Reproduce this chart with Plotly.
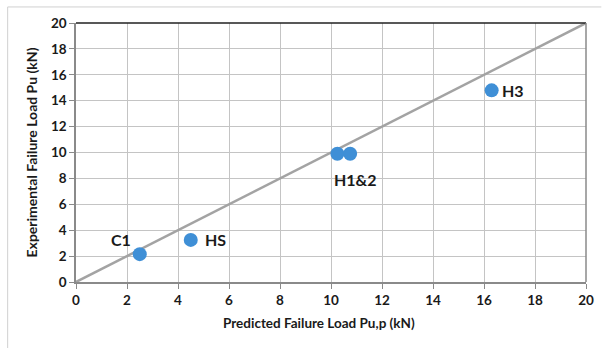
import plotly.graph_objects as go

pred = [2.5, 4.5, 10.25, 10.75, 16.3]
exper = [2.15, 3.25, 9.9, 9.9, 14.8]
line_x = [0, 20]
line_y = [0, 20]
label_text = ["C1", "HS", "H1&2", "H3"]
label_x = [2.5, 4.5, 10.5, 16.3]
label_y = [2.15, 3.25, 9.9, 14.8]
label_dx = [-19, 12, 11, 8]
label_dy = [15, 0, -26, 0]
label_anchor = ["center", "left", "center", "left"]
ticks = list(range(0, 21, 2))

fig = go.Figure()
fig.add_trace(go.Scatter(x=line_x, y=line_y, mode="lines",
                         line=dict(color="#a3a3a3", width=2.5), hoverinfo="skip"))
fig.add_trace(go.Scatter(x=pred, y=exper, mode="markers",
                         marker=dict(color="#3f8fd6", size=14)))

for t, x, y, dx, dy, a in zip(label_text, label_x, label_y, label_dx, label_dy, label_anchor):
    fig.add_annotation(x=x, y=y, text=t, showarrow=False, xanchor=a, yanchor="middle",
                       xshift=dx, yshift=dy,
                       font=dict(family="Lato", size=16, color="#1a1a1a", weight="bold"))

font_tick = dict(family="Lato", size=13.5, color="#1a1a1a", weight="bold")
title_font = dict(family="Lato", size=13.5, color="#1a1a1a", weight="bold")
fig.update_xaxes(range=[0, 20], tickvals=ticks, showgrid=True, gridcolor="#c4c4c4", gridwidth=1,
                 showline=True, linecolor="#8a8a8a", linewidth=1.5, ticks="outside", ticklen=5,
                 tickcolor="#8a8a8a", tickfont=font_tick, zeroline=False, mirror=False)
fig.update_yaxes(range=[0, 20], tickvals=ticks, showgrid=True, gridcolor="#c4c4c4", gridwidth=1,
                 showline=True, linecolor="#8a8a8a", linewidth=1.5, ticks="outside", ticklen=5,
                 tickcolor="#8a8a8a", tickfont=font_tick, zeroline=False,
                 title=dict(text="Experimental Failure Load Pu (kN)", standoff=10,
                            font=dict(family="Lato", size=14, color="#1a1a1a", weight="bold")))

fig.add_annotation(text="Predicted Failure Load Pu,p (kN)", xref="paper", yref="paper",
                   x=(321 - 76) / 514, y=(282 - 323) / 259, xanchor="center", yanchor="middle",
                   showarrow=False, font=title_font)

# plot-area borders: top dark, right gray
fig.add_shape(type="line", xref="paper", yref="paper", x0=0, x1=1, y0=1, y1=1,
              line=dict(color="#202020", width=1.5))
fig.add_shape(type="line", xref="paper", yref="paper", x0=1, x1=1, y0=0, y1=1,
              line=dict(color="#8a8a8a", width=1.5))
# outer light frame
fig.add_shape(type="line", xref="paper", yref="paper", x0=-0.134, x1=1.03, y0=1.062, y1=1.062,
              line=dict(color="#d0d0d0", width=1))
fig.add_shape(type="line", xref="paper", yref="paper", x0=-0.134, x1=-0.134, y0=1.062, y1=-0.3,
              line=dict(color="#d0d0d0", width=1))

fig.update_layout(width=606, height=348, margin=dict(l=76, r=16, t=23, b=66),
                  paper_bgcolor="white", plot_bgcolor="white", showlegend=False)

fig.write_html("out.html")
